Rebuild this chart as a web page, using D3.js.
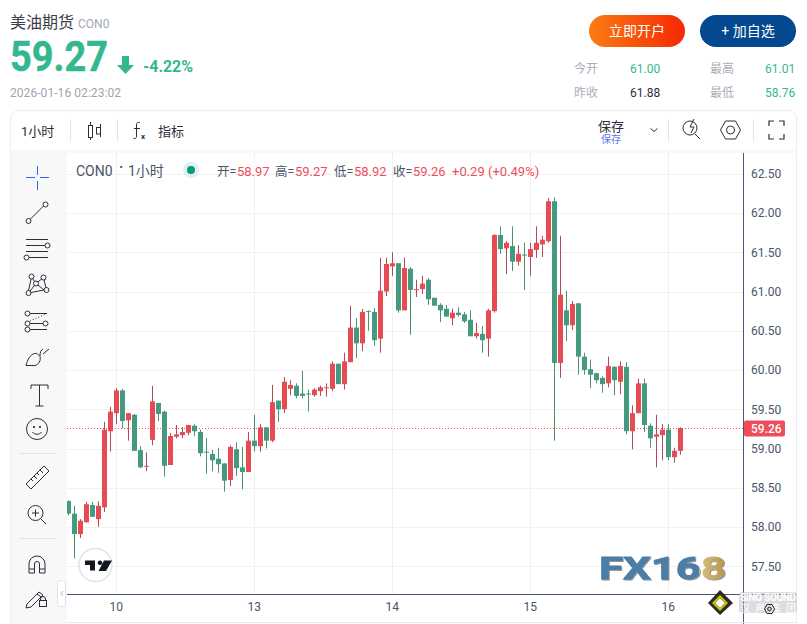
<!DOCTYPE html>
<html><head><meta charset="utf-8">
<script src="https://cdn.jsdelivr.net/npm/d3@7/dist/d3.min.js"></script>
<style>html,body{margin:0;padding:0;background:#fff;overflow:hidden}svg{display:block}text{font-family:Roboto,"Noto Sans CJK SC",sans-serif}</style>
</head><body><svg id="c" width="807" height="624"></svg>
<script>
const opens=[58.33,58.17,57.91,58.06,58.28,58.10,58.25,59.22,59.45,59.74,59.36,59.43,58.98,58.77,59.11,59.58,59.47,58.79,59.15,59.17,59.20,59.29,59.21,58.96,58.93,58.87,58.81,58.60,58.99,58.76,58.70,
59.10,59.03,59.27,59.10,59.61,59.50,59.76,59.80,59.70,59.70,59.68,59.73,59.77,59.76,60.08,59.82,60.10,60.54,60.34,60.75,60.74,60.40,61.00,61.32,61.36,60.76,61.29,61.02,
61.03,61.15,60.92,60.83,60.78,60.66,60.73,60.71,60.64,60.43,60.46,60.40,60.75,61.72,61.55,61.58,61.38,61.47,61.44,61.53,61.60,61.64,62.15,60.09,60.76,60.57,60.85,
60.17,60.01,59.96,59.90,59.83,60.04,59.85,60.04,59.22,59.45,59.83,59.29,59.15,59.17,59.24,58.89,58.97];
const highs=[58.34,58.27,58.10,58.32,58.32,58.33,59.34,59.53,59.77,59.76,59.45,59.44,59.03,58.95,59.80,59.58,59.48,59.20,59.30,59.27,59.30,59.31,59.24,59.13,58.98,59.01,58.81,59.04,59.08,59.02,59.21,
59.43,59.31,59.27,59.81,59.61,59.91,59.87,59.83,59.99,59.75,59.77,59.80,59.83,60.11,60.08,60.22,60.82,60.66,60.78,60.76,60.79,61.43,61.43,61.50,61.36,61.43,61.31,61.15,
61.20,61.17,60.92,60.85,60.83,60.78,60.80,60.74,60.76,60.60,60.56,60.78,61.73,61.83,61.64,61.83,61.59,61.62,61.62,61.83,61.71,62.19,62.20,61.71,61.01,60.88,60.85,
60.22,60.13,59.96,59.92,60.17,60.05,60.11,60.10,59.55,59.89,59.89,59.32,59.43,59.31,59.31,59.01,59.27];
const lows=[58.15,57.60,57.86,58.06,58.13,58.00,58.19,58.96,59.31,59.26,59.10,58.97,58.75,58.71,59.04,59.35,58.64,58.79,59.13,59.13,59.17,59.16,58.90,58.68,58.71,58.69,58.45,58.52,58.65,58.48,58.70,
58.96,58.96,59.00,59.08,59.34,59.45,59.68,59.64,59.64,59.47,59.66,59.67,59.66,59.73,59.82,59.75,60.10,60.15,60.24,60.50,60.31,60.22,60.94,61.20,60.73,60.76,60.45,60.93,
60.97,60.83,60.82,60.61,60.68,60.57,60.68,60.60,60.43,60.40,60.22,60.17,60.73,61.48,61.22,61.26,61.33,61.02,61.20,61.43,61.44,61.62,59.10,59.90,60.37,60.51,59.94,
59.94,59.77,59.83,59.71,59.78,59.68,59.69,59.18,58.99,59.45,59.21,59.01,58.76,58.85,58.85,58.82,58.92];
const closes=[58.17,57.91,58.08,58.29,58.13,58.27,59.24,59.47,59.74,59.35,59.45,58.97,58.76,58.78,59.60,59.44,58.78,59.16,59.18,59.21,59.30,59.22,58.94,58.95,58.85,58.80,58.59,59.02,58.75,58.70,59.10,
59.03,59.27,59.10,59.59,59.50,59.85,59.81,59.67,59.67,59.69,59.75,59.78,59.78,60.08,59.82,60.11,60.54,60.34,60.74,60.74,60.38,61.01,61.35,61.36,60.76,61.30,61.02,61.03,
61.10,60.90,60.82,60.76,60.68,60.73,60.70,60.62,60.43,60.47,60.38,60.76,61.72,61.54,61.62,61.38,61.48,61.46,61.54,61.62,61.66,62.15,60.09,60.96,60.57,60.84,60.17,
60.00,59.94,59.87,59.82,60.05,59.87,60.05,59.22,59.45,59.83,59.30,59.13,59.18,59.24,58.89,58.97,59.26];
const priceTicks=[57.5,58,58.5,59,59.5,60,60.5,61,61.5,62,62.5];
const timeIndex=[8,31,54,77,100];
const timeLabels=["10","13","14","15","16"];
const lastPrice=59.26;
const legendLabels=["开=","高=","低=","收="];
const legendValues=["58.97","59.27","58.92","59.26"];
const legendChange="+0.29", legendPct="(+0.49%)";
const toolbarLeft="1小时", indicatorLabel="指标";

const svg=d3.select("#c");
const UP="#e64a52", DOWN="#45997f", UPW="#b5485a", DOWNW="#4b9468";
const y=d3.scaleLinear().domain([60,62.5]).range([370,173.75]);
const x=d3.scaleLinear().domain([0,100]).range([68.67,668.67]);
const PL=67,PR=743,PT=153,PB=594;

// card
svg.append("rect").attr("x",10.5).attr("y",110.5).attr("width",786).attr("height",540).attr("rx",8).attr("fill","#fff").attr("stroke","#eceef2");
svg.append("rect").attr("x",11).attr("y",150).attr("width",785).attr("height",3).attr("fill","#f8f8f9");
svg.append("rect").attr("x",11).attr("y",150).attr("width",56).attr("height",474).attr("fill","#f8f8f9");
svg.append("rect").attr("x",PL).attr("y",PT).attr("width",PR-PL).attr("height",PB-PT).attr("fill","#fff");

// grid
const defs=svg.append("defs");
defs.append("clipPath").attr("id","pl").append("rect").attr("x",PL).attr("y",PT).attr("width",PR-PL).attr("height",PB-PT);
const sh=defs.append("filter").attr("id","logoShadow");
sh.append("feDropShadow").attr("dx",1).attr("dy",1).attr("stdDeviation",.4).attr("flood-color","#444").attr("flood-opacity",.6);
const g=svg.append("g").attr("clip-path","url(#pl)");
g.selectAll("line.h").data(priceTicks).join("line").attr("class","h").attr("x1",PL).attr("x2",PR).attr("y1",d=>Math.round(y(d))+.5).attr("y2",d=>Math.round(y(d))+.5).attr("stroke","#f0f1f4");
g.selectAll("line.v").data(timeIndex).join("line").attr("class","v").attr("x1",d=>Math.floor(x(d))+.5).attr("x2",d=>Math.floor(x(d))+.5).attr("y1",PT).attr("y2",PB).attr("stroke","#f0f1f4");

// last price line
g.append("line").attr("x1",PL).attr("x2",PR).attr("y1",Math.round(y(lastPrice))+.5).attr("y2",Math.round(y(lastPrice))+.5).attr("stroke","#ef4d5a").attr("stroke-dasharray","1 2");

// candles
const data=opens.map((o,i)=>({i,o,h:highs[i],l:lows[i],c:closes[i]}));
const cg=g.selectAll("g.k").data(data).join("g").attr("class","k");
cg.append("line").attr("x1",d=>Math.floor(x(d.i))+.5).attr("x2",d=>Math.floor(x(d.i))+.5).attr("y1",d=>y(d.h)).attr("y2",d=>y(d.l)).attr("stroke",d=>d.c>=d.o?UPW:DOWNW);
cg.append("rect").attr("x",d=>Math.floor(x(d.i))-2).attr("width",5).attr("y",d=>y(Math.max(d.o,d.c))).attr("height",d=>Math.max(1,Math.abs(y(d.o)-y(d.c)))).attr("fill",d=>d.c>=d.o?UP:DOWN);

// axes
const ya=d3.axisRight(y).tickValues(priceTicks).tickFormat(d3.format(".2f")).tickSize(0).tickPadding(8);
const yg=svg.append("g").attr("transform",`translate(${PR},0)`).call(ya);
yg.select(".domain").remove();
yg.selectAll("text").attr("font-size",12).attr("fill","#4a5568").attr("font-family","Roboto");
const xa=d3.axisBottom(x).tickValues(timeIndex).tickFormat((d,i)=>timeLabels[i]).tickSize(0).tickPadding(8);
const xg=svg.append("g").attr("transform",`translate(-1,${PB})`).call(xa);
xg.select(".domain").remove();
xg.selectAll("text").attr("font-size",12).attr("fill","#4a5568");
svg.append("line").attr("x1",PL).attr("x2",796).attr("y1",PB+.5).attr("y2",PB+.5).attr("stroke","#4c5573");
svg.append("line").attr("x1",PR+.5).attr("x2",PR+.5).attr("y1",PT).attr("y2",624).attr("stroke","#4c5573");
svg.append("line").attr("x1",PL).attr("x2",796).attr("y1",622.5).attr("y2",622.5).attr("stroke","#e6e8ee");

// price label
svg.append("rect").attr("x",PR+1).attr("y",y(lastPrice)-7.5).attr("width",41).attr("height",16).attr("rx",2).attr("fill","#ef4d5a");
svg.append("text").attr("x",PR+8).attr("y",y(lastPrice)+4.5).attr("font-size",12).attr("font-weight",500).attr("fill","#fff").text(d3.format(".2f")(lastPrice));

function T(x,y,s,fs,fill,o={}){const t=svg.append("text").attr("x",x).attr("y",y).attr("font-size",fs).attr("fill",fill).text(s);for(const k in o)t.attr(k,o[k]);return t;}
const LS='"Liberation Sans",Arial,sans-serif', CJK='"Noto Sans CJK SC",sans-serif';

// header
T(10,28,"美油期货",16,"#3a3f4b",{"font-family":CJK});
T(78,27.5,"CON0",12,"#a4a9b6",{"font-family":LS});
T(10,71,"59.27",42,"#33b78f",{"font-family":LS,"font-weight":700,textLength:98,lengthAdjust:"spacingAndGlyphs",stroke:"#33b78f","stroke-width":.5});
svg.append("path").attr("d","M122 56h7v9h5l-8.5 9-8.500-9h5z").attr("fill","#33b78f");
T(143,72,"-4.22%",16,"#33b78f",{"font-family":LS,"font-weight":700,textLength:50,lengthAdjust:"spacingAndGlyphs"});
T(10,97,"2026-01-16 02:23:02",12,"#a2a4ad",{"font-family":LS,textLength:111});

// buttons
const dg=defs.append("linearGradient").attr("id","btn");
dg.append("stop").attr("offset",0).attr("stop-color","#f97c12");
dg.append("stop").attr("offset",1).attr("stop-color","#f72805");
svg.append("rect").attr("x",589).attr("y",15).attr("width",96).attr("height",32).attr("rx",16).attr("fill","url(#btn)");
svg.append("rect").attr("x",700).attr("y",15).attr("width",96).attr("height",32).attr("rx",16).attr("fill","#04498f");
T(637,36,"立即开户",14,"#fff",{"text-anchor":"middle","font-family":CJK});
T(748,36,"+ 加自选",14,"#fff",{"text-anchor":"middle","font-family":CJK});

// stats
T(574,73,"今开",12,"#a9adb8",{"font-family":CJK});
T(574,97,"昨收",12,"#a9adb8",{"font-family":CJK});
T(710,73,"最高",12,"#a9adb8",{"font-family":CJK});
T(710,97,"最低",12,"#a9adb8",{"font-family":CJK});
T(630,73,"61.00",12,"#33b78f",{"font-family":LS});
T(630,97,"61.88",12,"#2b2f3a",{"font-family":LS});
T(765,73,"61.01",12,"#33b78f",{"font-family":LS});
T(765,97,"58.76",12,"#33b78f",{"font-family":LS});

// toolbar
T(21,136,toolbarLeft,13,"#2a2e39",{"font-family":CJK});
T(158,136,indicatorLabel,13,"#2a2e39",{"font-family":CJK});
[70.5,117.5,668.5,753.5].forEach(a=>svg.append("line").attr("x1",a).attr("x2",a).attr("y1",119).attr("y2",141).attr("stroke","#e0e3eb"));
const ink="#2a2e39";
const P=(d,o={})=>svg.append("path").attr("d",d).attr("fill","none").attr("stroke",o.c||ink).attr("stroke-width",o.w||1);
const C=(cx,cy,r,o={})=>svg.append("circle").attr("cx",cx).attr("cy",cy).attr("r",r).attr("fill",o.f||"none").attr("stroke",o.c||ink);
// candle icon
P("M90.5 122v3M90.5 138v2M100.5 124v3M100.5 134v3");
svg.append("rect").attr("x",88.5).attr("y",125.5).attr("width",4).attr("height",12).attr("fill","none").attr("stroke",ink);
svg.append("rect").attr("x",96.5).attr("y",127.5).attr("width",4).attr("height",6.5).attr("fill","none").attr("stroke",ink);
// fx
P("M140 123c-2-1.500-3.500-.5-3.500 2v11c0 2.500-1.500 3.500-3.500 2M134 128.500h6");
T(141,139,"x",8,ink,{"font-family":LS,"font-weight":700});
// save
T(611,131,"保存",13,"#2a2e39",{"text-anchor":"middle","font-family":CJK});
T(611,143,"保存",10,"#5b7bf0",{"text-anchor":"middle","font-family":CJK});
P("M650.5 128.5l3.5 3 3.500-3");
C(690,128,7);P("M695 134l5 5");P("M694 119l-4 8h4l-3 6",{c:ink});
P("M720.500 130l5-9h10l5 9-5 9h-10z");C(730.500,130,4);
P("M769 126v-5h5M779 121h5v5M769 134v5h5M779 139h5v-5",{w:1.2});

// legend row
T(76,176,"CON0",14,"#4a5568",{"font-family":"Roboto"});
T(119,172,"·",14,"#4a5568",{"font-weight":700});
T(128,176,"1小时",14,"#4a5568",{"font-family":CJK});
C(191,170,8,{f:"#dff1ec",c:"none"});C(191,170,4,{f:"#089981",c:"none"});
const legendFont={"font-family":'Roboto,"Noto Sans CJK SC"'};
[217,275,334,393].forEach((a,i)=>{T(a,176,legendLabels[i],12.5,"#4a5568",legendFont);T(a+20,176,legendValues[i],13,"#ef4d5a",legendFont);});
T(452,176,legendChange,13,"#ef4d5a",legendFont);
T(488,176,legendPct,13,"#ef4d5a",legendFont);

// left tools
P("M37.5 166v9M37.500 181v9M26 177.500h9M40 177.500h9",{c:"#2962ff"});
P("M30.500 219L43.500 206");C(28.500,221,2.500,{f:"#f8f8f9"});C(45.500,204.500,2.500,{f:"#f8f8f9"});
P("M26 239.500h22M26 245.500h19M26 251.500h22M29 257.500h19");C(47.500,245.500,2.500,{f:"#f8f8f9"});C(26.500,257.500,2.500,{f:"#f8f8f9"});
P("M28 293L31.500 277L36 283.500L28.500 293L44 290L36 283.500L43.500 277.500L46.500 290");[[28.500,293],[31.500,276.500],[36,283.500],[43.500,277.500],[46.500,290]].forEach(a=>C(a[0],a[1],2.500,{f:"#f8f8f9"}));
P("M27 313.500h20M27 323.500h20M27 329.500h20");P("M30 321L46 314",{}).attr("stroke-dasharray","1 2");[[27.500,313.500],[27.500,323.500],[45.500,323.500],[27.500,329.500]].forEach(a=>C(a[0],a[1],2.500,{f:"#f8f8f9"}));
P("M26 365.500h9c4-1 6-5 5-9l-3-3c-5-1-9 4-11 12zM40 356c0-4 1-6 3-7M43 354l6-5");
P("M31 385h17M31 385v4M48 385v4M39.500 385v21M35.500 406h8");
C(37,429,10.500);C(34,427,.7,{f:ink});C(40,427,.7,{f:ink});P("M32.500 432c2 3 7 3 9 0");
P("M26 484L44 466L49 471L31 489ZM31 479l2 2M34 476l3 3M37 473l2 2M40 470l3 3");
C(35.500,513,7.500);P("M41 519l5 5M32 513h7M35.500 509.500v7");
P("M29 573v-9a8 8 0 0 1 16 0v9h-5.500v-9a2.500 2.500 0 0 0-5 0v9zM29 569h5.500M39.500 569h5.500");
P("M27 604l12-12 4 3-12 12-5 1zM37 594l4 3");svg.append("rect").attr("x",39.500).attr("y",600.500).attr("width",7).attr("height",6).attr("fill","#f8f8f9").attr("stroke",ink);P("M40.500 600.500v-1.500a2.500 2.500 0 0 1 5 0v1.500");
[453.5,538.5].forEach(a=>svg.append("line").attr("x1",19).attr("x2",55).attr("y1",a).attr("y2",a).attr("stroke","#dfe2ea"));
svg.append("rect").attr("x",57.500).attr("y",580.500).attr("width",8).attr("height",26).attr("rx",3).attr("fill","#fff").attr("stroke","#e0e3eb");
P("M63 591l-2 2.500 2 2.500",{c:"#b2b5be"});

// tradingview badge
svg.append("circle").attr("cx",95.500).attr("cy",565).attr("r",16.500).attr("fill","#fff").attr("stroke","#e0e3eb").attr("stroke-width",1.500);
svg.append("path").attr("d","M85 560.500h10v10h-5v-5.500h-5zM100 560.500a2.300 2.300 0 1 1-.01 0M104 560.500h8l-6 10.500h-7.500z").attr("fill","#131722");

// FX168 logo: one text, blue running into gold on the last digit
const lg=defs.append("linearGradient").attr("id","logoFill");
[[0,"#4c7ea6"],[.785,"#4c7ea6"],[.785,"#d9c080"],[1,"#b59550"]].forEach(s=>lg.append("stop").attr("offset",s[0]).attr("stop-color",s[1]));
T(599,579,"FX168",32,"url(#logoFill)",{"font-family":'"DejaVu Sans"',"font-weight":700,textLength:127,lengthAdjust:"spacingAndGlyphs",stroke:"url(#logoFill)","stroke-width":.8,filter:"url(#logoShadow)"});

// sino sound watermark
svg.append("path").attr("d","M720 590L733 603L720 615L708 603Z").attr("fill","#2d2a20");
svg.append("path").attr("d","M720 595L728 603L720 611L712 603Z").attr("fill","#d4b81c");
svg.append("path").attr("d","M720 598L725 603L720 608L715 603Z").attr("fill","#fff").attr("stroke","#9ab43c");
svg.append("rect").attr("x",739).attr("y",592).attr("width",58).attr("height",21).attr("fill","#b9bbbf").attr("opacity",.5).attr("rx",3);
T(740,601,"SINO SOUND",10,"#fff",{"font-family":LS,"font-weight":700,textLength:56});
T(740,612,"汉 声 集 团",10,"#fff",{"font-family":CJK,textLength:56});
svg.append("path").attr("d","M764.500 609l2.500-4.500h5l2.500 4.500-2.500 4.500h-5z").attr("fill","none").attr("stroke","#222");
svg.append("circle").attr("cx",769.500).attr("cy",609).attr("r",1.800).attr("fill","none").attr("stroke","#222");
</script></body></html>
